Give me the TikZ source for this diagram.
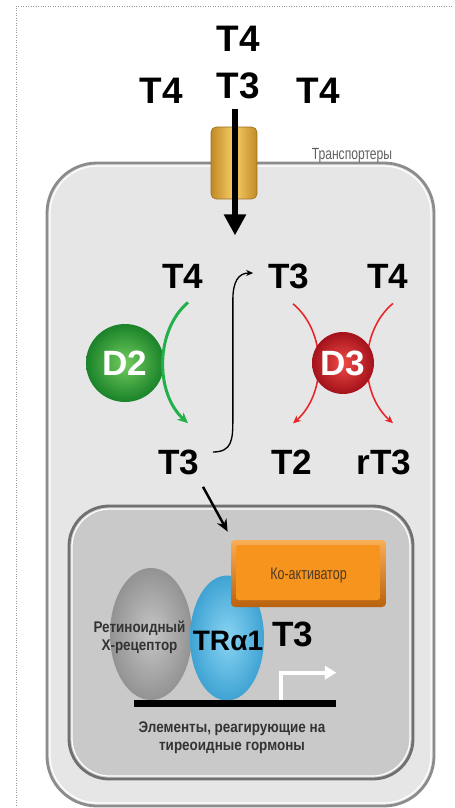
\documentclass[tikz,border=0pt]{standalone}
\usepackage{fontspec}
\setmainfont{Liberation Sans}
\newfontfamily\narrowfont[FakeStretch=0.75]{Liberation Sans}
\newfontfamily\tagfont[FakeStretch=0.87]{Liberation Sans}
\usetikzlibrary{arrows.meta, positioning, calc, shapes.geometric}

\definecolor{cellgray}{HTML}{E6E6E6}
\definecolor{nucgray}{HTML}{C9C9C9}
\definecolor{rimgray}{HTML}{8C8C8C}
\definecolor{d2light}{HTML}{72CC5E}
\definecolor{d2dark}{HTML}{1A8229}
\definecolor{arrowgreen}{HTML}{22B04B}
\definecolor{d3light}{HTML}{F04A48}
\definecolor{d3dark}{HTML}{A3121A}
\definecolor{arrowred}{HTML}{E8262A}
\definecolor{coact}{HTML}{F7941D}
\definecolor{coactdark}{HTML}{B9620F}
\definecolor{coactlight}{HTML}{F9AD55}
\definecolor{gold}{HTML}{F9CD66}
\definecolor{golddark}{HTML}{C08A26}
\definecolor{trblue}{HTML}{62C6F0}
\definecolor{trbluedark}{HTML}{3FA3D3}
\definecolor{textgray}{HTML}{333333}
\definecolor{notegray}{HTML}{606060}
\definecolor{coacttext}{HTML}{4D3A26}

\begin{document}
\begin{tikzpicture}[
    x=0.02cm, y=-0.02cm,
    frame/.style={draw=gray!80, densely dotted, line width=0.4pt},
    cell/.style={fill=cellgray, draw=rimgray, line width=1.6pt, rounded corners=1cm},
    nucleus/.style={fill=nucgray, draw=rimgray!80!black, line width=1.6pt, rounded corners=0.8cm},
    rim/.style={draw=white, line width=0.7pt},
    hormone/.style={font=\bfseries\fontsize{20}{24}\selectfont, inner sep=0pt},
    hormonetop/.style={hormone, font=\bfseries\fontsize{21}{25}\selectfont},
    enzyme/.style={circle, inner sep=0pt, text=white, font=\bfseries\fontsize{20}{24}\selectfont},
    transporter/.style={rectangle, rounded corners=0.1cm, minimum width=0.92cm, minimum height=1.44cm,
        left color=golddark, right color=golddark, middle color=gold, draw=golddark!80!black, line width=0.3pt},
    note/.style={font=\narrowfont\fontsize{9.2}{11}\selectfont, text=notegray, inner sep=0pt},
    tag/.style={font=\tagfont\bfseries\fontsize{8.8}{10.2}\selectfont, text=textgray, align=center, inner sep=0pt},
    coactbox/.style={rectangle, rounded corners=0.08cm, minimum width=3.1cm, minimum height=1.34cm,
        top color=coactlight, bottom color=coactdark, text=coacttext, text depth=0pt,
        font=\narrowfont\fontsize{9.5}{11}\selectfont,
        path picture={\fill[coact, rounded corners=0.05cm]
            ($(path picture bounding box.north west)+(5,5)$) rectangle
            ($(path picture bounding box.south east)+(-6,-7)$);}},
    influx/.style={line width=0.12cm, -{Triangle[length=0.42cm, width=0.42cm]}},
    convgreen/.style={arrowgreen, line width=1.7pt, -{Stealth[length=6pt, width=5.5pt]}},
    convred/.style={arrowred, line width=0.9pt, -{Stealth[length=4.5pt, width=4pt]}},
    shuttle/.style={line width=0.75pt, -{Stealth[length=4pt, width=3.5pt]}},
    import/.style={line width=1.4pt, -{Stealth[length=7pt, width=6pt]}},
    tss/.style={white, line width=2.3pt, -{Triangle[length=6.5pt, width=7.5pt]}}
]
    \useasboundingbox (0,0) rectangle (454,808);
    \fill[white] (0,0) rectangle (454,808);
    \draw[frame] (452,6) -- (16,6) -- (16,806);

    % cell with membrane transporter
    \draw[cell] (47,163) rectangle (434,806);
    \draw[rim, rounded corners=0.95cm] (50,166) rectangle (431,803);
    \node[transporter] (porter) at (234,163) {};
    \node[note, anchor=base] (porterlbl) at (352,159) {Транспортеры};

    % hormones outside the cell
    \node[hormonetop] (tfourtop) at (238,39) {T4};
    \node[hormonetop] (tthreetop) at (238,86) {T3};
    \node[hormonetop] (tfourleft) at (161,91) {T4};
    \node[hormonetop] (tfourright) at (318,91) {T4};
    \draw[influx] ($(tthreetop.south)+(-3,10)$) -- ++(0,126);

    % deiodinases
    \node[hormone] (tfourin) at (183,276) {T4};
    \node[hormone] (tthreeout) at (179,462) {T3};
    \node[hormone] (tthreeup) at (289,276) {T3};
    \node[hormone] (tfourdeg) at (388,276) {T4};
    \node[hormone] (ttwo) at (292,462) {T2};
    \node[hormone] (rtthree) at (384,462) {rT3};

    \draw[convred] ($(tthreeup.south)+(4,15)$) .. controls +(34,28) and +(34,-30) .. ($(ttwo.north)+(1,-26)$);
    \draw[convred] ($(tfourdeg.south)+(5,15)$) .. controls +(-34,28) and +(-34,-30) .. ($(rtthree.north)+(9,-26)$);
    \node[enzyme, inner color=d3light, outer color=d3dark, minimum size=1.24cm] (dthree) at (343,363) {D3};

    \node[enzyme, inner color=d2light, outer color=d2dark, minimum size=1.56cm] (dtwo) at (125,363) {D2};
    \draw[convgreen] ($(tfourin.south)+(5,14)$) .. controls +(-33,28) and +(-33,-30) .. ($(tthreeout.north)+(9,-26)$);

    \draw[shuttle] ($(tthreeout.east)+(13,-10)$) .. controls +(19,0) and +(0,20) .. ++(20,-32)
        -- ++(0,-120) .. controls +(0,-18) and +(-15,0) .. ($(tthreeup.west)+(-15,-3)$);

    % nucleus
    \draw[nucleus] (69,506) rectangle (413,779);
    \draw[rim, rounded corners=0.75cm] (72,509) rectangle (410,776);

    \node[ellipse, minimum width=1.64cm, minimum height=2.64cm, inner color=gray!45, outer color=gray!85] (rxr) at (151,634) {};
    \node[ellipse, minimum width=1.48cm, minimum height=2.5cm, inner color=trblue!75!white, outer color=trbluedark] (tra) at (227,638) {};
    \node[coactbox] (coact) at (308.5,573.5) {Ко-активатор};

    \node[tag, anchor=base] (rxrlbl) at (139.5,650) {Ретиноидный\\Х-рецептор};
    \node[font=\bfseries\fontsize{16}{19}\selectfont, inner sep=0pt] (tralbl) at (228,641) {TRα1};
    \node[hormone] (tthreebound) at (293,634) {T3};

    \node[fill=black, minimum width=4.04cm, minimum height=0.14cm, inner sep=0pt] (hre) at (235,703.5) {};
    \draw[tss] ($(hre.north west)+(147,0)$) |- ($(hre.north east)+(0,-27)$);
    \node[tag, anchor=base] (hrelbl) at (232,750) {Элементы, реагирующие на\\тиреоидные гормоны};

    \draw[import] ($(tthreeout.south)+(24,12)$) -- ($(coact.north west)+(-3,-8)$);
\end{tikzpicture}
\end{document}
